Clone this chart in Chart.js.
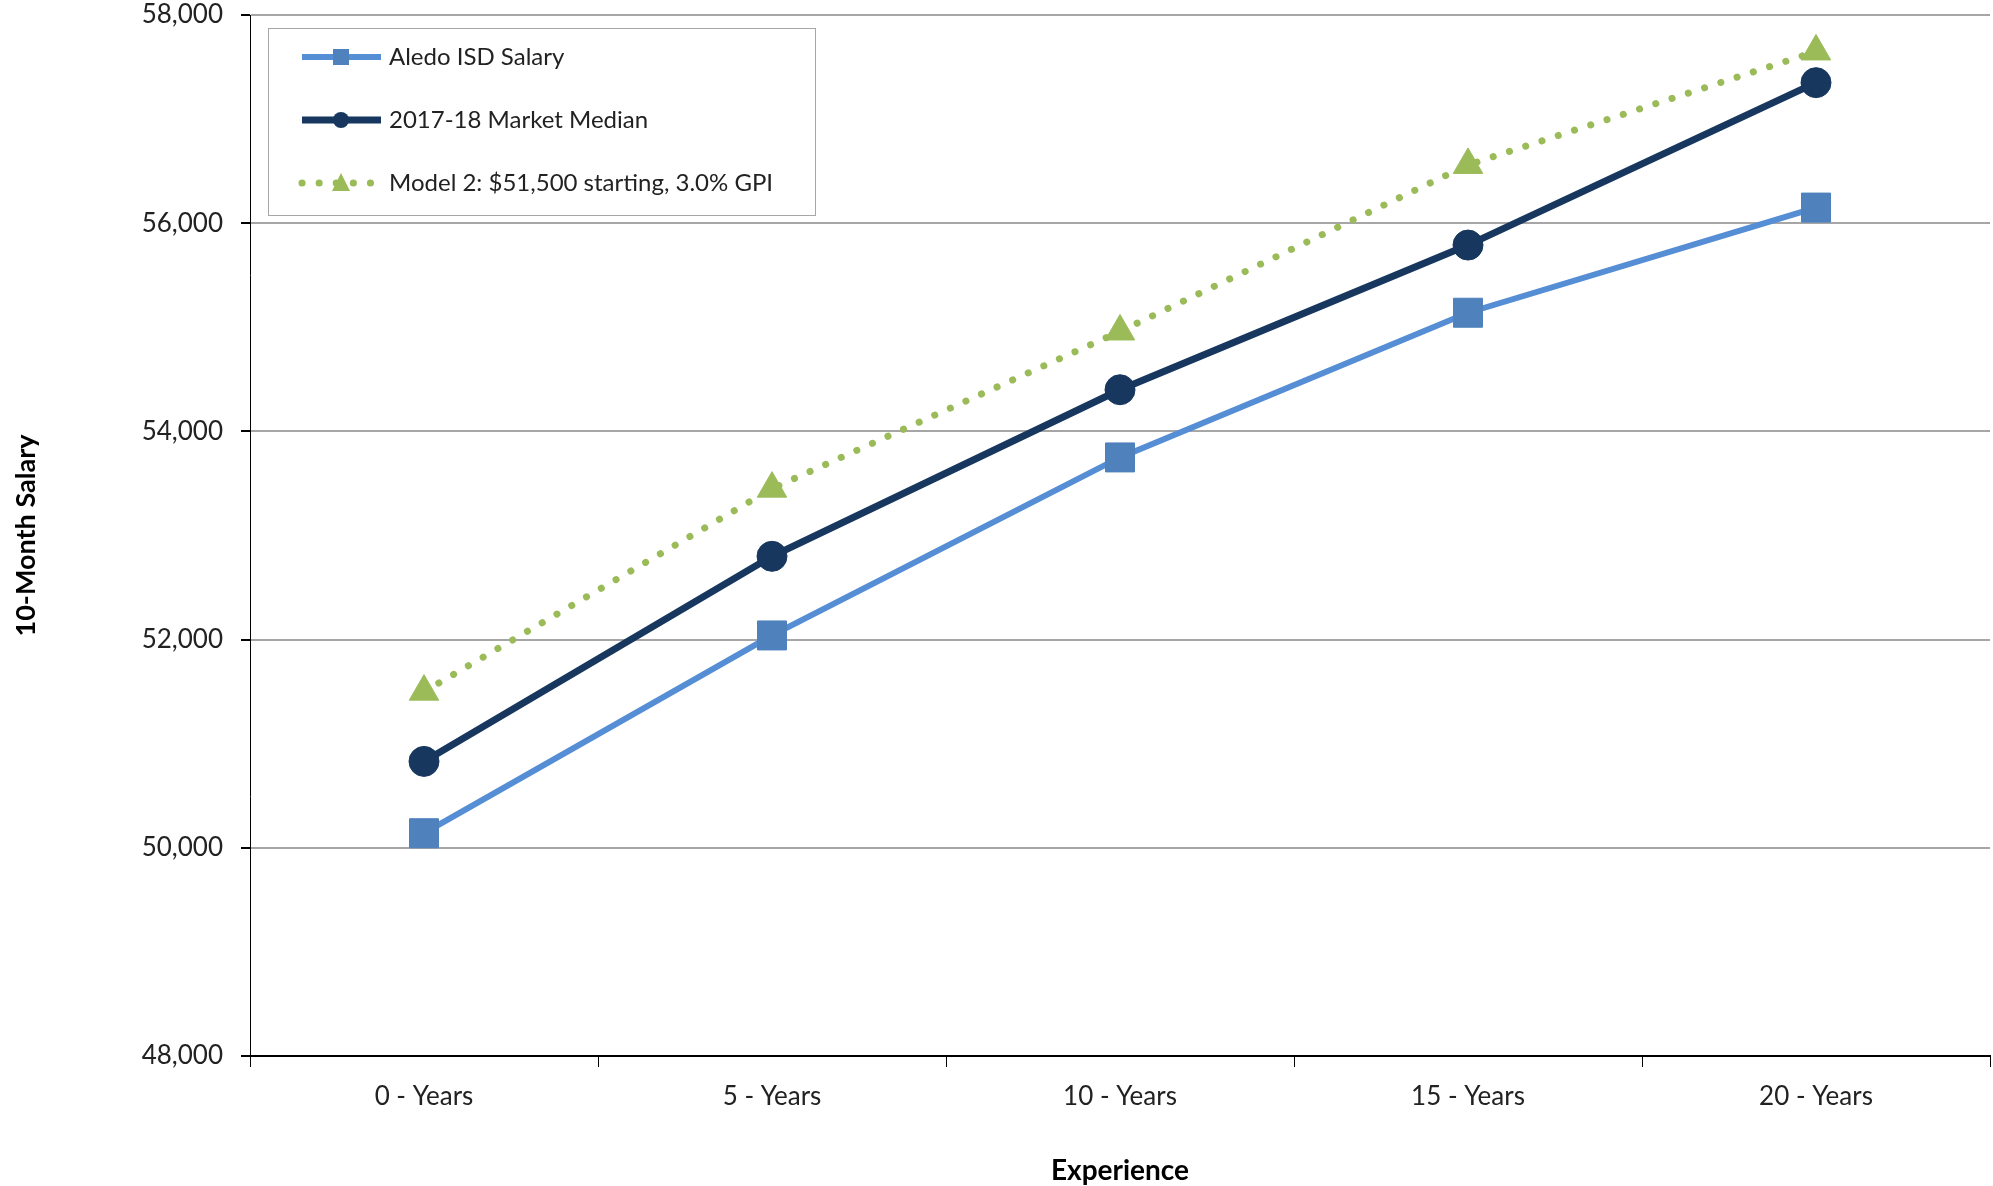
<!DOCTYPE html>
<html>
<head>
<meta charset="utf-8">
<script src="https://cdn.jsdelivr.net/npm/chart.js@4.4.0/dist/chart.umd.min.js"></script>
<style>
    body { margin: 0; background: #ffffff; }
    canvas { display: block; }
</style>
</head>
<body>
<canvas id="chart" width="1993" height="1186"></canvas>
<script>
var categories = ["0 - Years", "5 - Years", "10 - Years", "15 - Years", "20 - Years"];
var aledoSalary = [50140, 52040, 53750, 55140, 56150];
var marketMedian = [50830, 52800, 54400, 55790, 57350];
var model2 = [51500, 53450, 54960, 56560, 57650];
var seriesNames = ["Aledo ISD Salary", "2017-18 Market Median", "Model 2: $51,500 starting, 3.0% GPI"];
var yMin = 48000;
var yMax = 58000;
var yStep = 2000;

var fontFamily = "Lato, 'Open Sans', 'Liberation Sans', sans-serif";
var textColor = "#222222";

// legend drawn inside the plot, top-left, like the Excel original
var legendBox = {
    id: "legendBox",
    afterDraw: function(chart) {
        var ctx = chart.ctx;
        var left = chart.chartArea.left + 18;
        var top = chart.chartArea.top + 13;
        ctx.save();
        ctx.strokeStyle = "#a6a6a6";
        ctx.lineWidth = 1;
        ctx.strokeRect(left + 0.5, top + 0.5, 547, 187);

        chart.data.datasets.forEach(function(ds, i) {
            var y = top + 29 + i * 63;
            var x1 = left + 34;
            var x2 = left + 113;
            var mx = left + 73;

            ctx.beginPath();
            ctx.strokeStyle = ds.borderColor;
            ctx.lineWidth = ds.borderWidth;
            ctx.lineCap = ds.borderCapStyle || "butt";
            ctx.setLineDash(ds.borderDash || []);
            ctx.moveTo(x1, y);
            ctx.lineTo(x2, y);
            ctx.stroke();
            ctx.setLineDash([]);

            ctx.fillStyle = ds.pointBackgroundColor;
            ctx.beginPath();
            if (ds.pointStyle == "rect") {
                ctx.rect(mx - 8, y - 8, 16, 16);
            } else if (ds.pointStyle == "circle") {
                ctx.arc(mx, y, 8, 0, Math.PI * 2);
            } else {
                ctx.moveTo(mx, y - 10);
                ctx.lineTo(mx + 9, y + 8);
                ctx.lineTo(mx - 9, y + 8);
                ctx.closePath();
            }
            ctx.fill();

            ctx.fillStyle = textColor;
            ctx.font = "24px " + fontFamily;
            ctx.textAlign = "left";
            ctx.textBaseline = "middle";
            ctx.fillText(ds.label, left + 121, y);
        });
        ctx.restore();
    }
};

var ctx = document.getElementById("chart").getContext("2d");
var myChart = new Chart(ctx, {
    type: "line",
    data: {
        labels: categories,
        datasets: [{
            label: seriesNames[0],
            data: aledoSalary,
            borderColor: "#558ed5",
            borderWidth: 6,
            pointStyle: "rect",
            pointRadius: 20.5,
            pointBackgroundColor: "#4f81bd",
            pointBorderColor: "#4f81bd",
            pointBorderWidth: 1,
            tension: 0
        }, {
            label: seriesNames[1],
            data: marketMedian,
            borderColor: "#17375e",
            borderWidth: 7,
            pointStyle: "circle",
            pointRadius: 15,
            pointBackgroundColor: "#17375e",
            pointBorderColor: "#17375e",
            pointBorderWidth: 1,
            tension: 0
        }, {
            label: seriesNames[2],
            data: model2,
            borderColor: "#9bbb59",
            borderWidth: 7,
            borderDash: [0.1, 17],
            borderCapStyle: "round",
            pointStyle: "triangle",
            pointRadius: 17,
            pointBackgroundColor: "#9bbb59",
            pointBorderColor: "#9bbb59",
            pointBorderWidth: 1,
            tension: 0
        }]
    },
    options: {
        responsive: false,
        animation: false,
        devicePixelRatio: 1,
        layout: {
            autoPadding: false,
            padding: { top: 0, right: 3, bottom: 0, left: 0 }
        },
        plugins: {
            legend: { display: false },
            tooltip: { enabled: false }
        },
        scales: {
            x: {
                offset: true,
                grid: {
                    offset: true,
                    drawOnChartArea: false,
                    tickColor: "#000000",
                    tickLength: 11
                },
                border: { color: "#000000", width: 2 },
                ticks: {
                    color: textColor,
                    padding: 14,
                    font: { family: fontFamily, size: 26 }
                },
                title: {
                    display: true,
                    text: "Experience",
                    color: "#000000",
                    padding: { top: 0, bottom: -2 },
                    font: { family: fontFamily, size: 28, weight: "bold" }
                },
                afterFit: function(scale) {
                    scale.height = 130;
                    scale.paddingLeft = 0;
                    scale.paddingRight = 0;
                }
            },
            y: {
                min: yMin,
                max: yMax,
                grid: {
                    color: "#a6a6a6",
                    lineWidth: 2,
                    tickColor: "#000000",
                    tickLength: 9
                },
                border: { color: "#000000", width: 1 },
                ticks: {
                    stepSize: yStep,
                    color: textColor,
                    padding: 18,
                    font: { family: fontFamily, size: 26 },
                    callback: function(value) {
                        return value.toLocaleString("en-US");
                    }
                },
                title: {
                    display: true,
                    text: "10-Month Salary",
                    color: "#000000",
                    padding: { top: 10, bottom: 0 },
                    font: { family: fontFamily, size: 27, weight: "bold" }
                },
                afterFit: function(scale) {
                    scale.width = 250;
                    scale.paddingTop = 15;
                    scale.paddingBottom = 0;
                }
            }
        }
    },
    plugins: [legendBox]
});
</script>
</body>
</html>
